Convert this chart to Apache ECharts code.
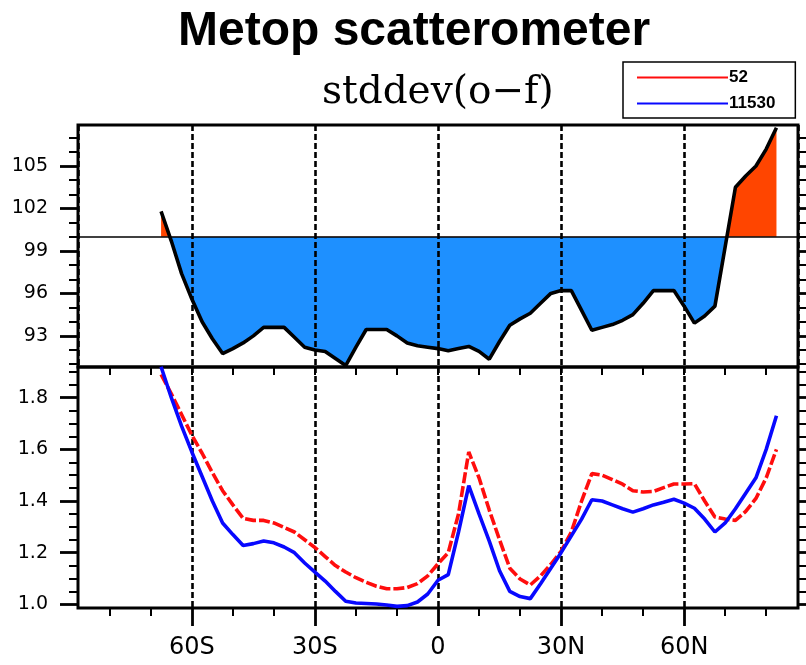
<!DOCTYPE html>
<html>
<head>
<meta charset="utf-8">
<script src="https://cdn.jsdelivr.net/npm/echarts@6/dist/echarts.min.js"></script>
<style>
  html, body { margin: 0; padding: 0; background: #fff; }
  #chart { width: 806px; height: 665px; }
</style>
</head>
<body>
<div id="chart"></div>
<script>
// latitude grid (2.5 deg)
const lats = [
  -67.5, -65, -62.5, -60, -57.5, -55, -52.5, -50, -47.5, -45, -42.5, -40, -37.5, -35, -32.5, -30,
  -27.5, -25, -22.5, -20, -17.5, -15, -12.5, -10, -7.5, -5, -2.5, 0, 2.5, 5, 7.5, 10,
  12.5, 15, 17.5, 20, 22.5, 25, 27.5, 30, 32.5, 35, 37.5, 40, 42.5, 45, 47.5, 50,
  52.5, 55, 57.5, 60, 62.5, 65, 67.5, 70, 72.5, 75, 77.5, 80, 82.5
];

// top panel: normalised stddev (%)
const ratio = [
  101.8, 99.7, 97.4, 95.6, 94.0, 92.8, 91.75, 92.1, 92.5, 93.0, 93.6, 93.6, 93.6, 92.9, 92.2, 92.0,
  91.9, 91.4, 90.9, 92.2, 93.45, 93.45, 93.45, 93.0, 92.5, 92.3, 92.2, 92.1, 91.95, 92.1, 92.25, 91.9,
  91.35, 92.6, 93.75, 94.2, 94.6, 95.3, 96.0, 96.2, 96.2, 94.8, 93.4, 93.6, 93.8, 94.1, 94.5, 95.3,
  96.2, 96.2, 96.2, 95.1, 93.9, 94.4, 95.1, 99.3, 103.5, 104.3, 105.0, 106.2, 107.7
];

// bottom panel: stddev(o-f)
const exp52 = [
  1.89, 1.815, 1.735, 1.655, 1.585, 1.51, 1.44, 1.385, 1.333, 1.325, 1.325, 1.315, 1.298, 1.28, 1.25, 1.22,
  1.185, 1.15, 1.125, 1.103, 1.085, 1.07, 1.06, 1.06, 1.065, 1.08, 1.11, 1.157, 1.20, 1.35, 1.59, 1.49,
  1.365, 1.25, 1.14, 1.098, 1.075, 1.11, 1.155, 1.205, 1.28, 1.40, 1.506, 1.50, 1.483, 1.465, 1.44, 1.435,
  1.437, 1.452, 1.466, 1.466, 1.467, 1.40, 1.338, 1.33, 1.325, 1.36, 1.41, 1.49, 1.60
];
const exp11530 = [
  1.92, 1.80, 1.69, 1.59, 1.495, 1.40, 1.315, 1.27, 1.228, 1.235, 1.245, 1.238, 1.222, 1.20, 1.16, 1.125,
  1.09, 1.05, 1.012, 1.005, 1.003, 1.001, 0.997, 0.992, 0.995, 1.009, 1.04, 1.093, 1.115, 1.28, 1.46, 1.35,
  1.245, 1.13, 1.05, 1.03, 1.022, 1.08, 1.14, 1.20, 1.265, 1.33, 1.405, 1.40, 1.385, 1.37, 1.357, 1.37,
  1.385, 1.395, 1.407, 1.392, 1.372, 1.33, 1.28, 1.315, 1.37, 1.43, 1.49, 1.60, 1.73
];

const latTicks = [-60, -30, 0, 30, 60];
const ratioTicks = [93, 96, 99, 102, 105];
const sdTicks = [1.0, 1.2, 1.4, 1.6, 1.8];
const ratioMin = 90.8, ratioMax = 107.9, ratioRef = 100;

const pairs = (ys) => lats.map((x, i) => [x, ys[i]]);
const latName = (v) => (v < 0 ? (-v) + 'S' : v > 0 ? v + 'N' : '0');

const tickFont = { color: '#000', fontFamily: 'DejaVu Sans' };
const dashed = { color: '#000', width: 2.6, type: [6, 3] };
const noLine = { show: false, onZero: false };
const majorTick = { color: '#000', width: 2.8 };
const minorTick = { color: '#000', width: 2 };

const chart = echarts.init(document.getElementById('chart'));

const option = {
  backgroundColor: '#fff',
  animation: false,
  title: [
    {
      text: 'Metop scatterometer',
      left: 178,
      top: 8,
      padding: 0,
      textStyle: { fontSize: 48, fontWeight: 'bold', fontFamily: 'Liberation Sans', color: '#000' }
    },
    {
      text: 'stddev(o\u2212f)',
      left: 322,
      top: 73,
      padding: 0,
      textStyle: { fontSize: 39, fontWeight: 'normal', fontFamily: 'DejaVu Serif', color: '#000' }
    }
  ],
  legend: {
    data: ['52', '11530'],
    orient: 'vertical',
    left: 623,
    top: 62,
    padding: [7, 20, 6, 13],
    itemWidth: 91,
    itemHeight: 14,
    itemGap: 9,
    borderColor: '#000',
    borderWidth: 1.5,
    lineStyle: { width: 2, type: 'solid' },
    itemStyle: { opacity: 0 },
    textStyle: { fontSize: 17, fontWeight: 'bold', fontFamily: 'Liberation Sans', color: '#000', padding: [0, 0, 0, -4] }
  },
  grid: [
    { left: 78, top: 125, width: 720, height: 242, show: true, borderColor: '#000', borderWidth: 3 },
    { left: 78, top: 367, width: 720, height: 241, show: true, borderColor: '#000', borderWidth: 3 }
  ],
  xAxis: [
    {
      gridIndex: 0, type: 'value', min: -87.75, max: 87.75, z: 3,
      axisLine: noLine, axisTick: { show: false }, axisLabel: { show: false },
      splitLine: { show: true, lineStyle: dashed }
    },
    {
      gridIndex: 1, type: 'value', position: 'bottom', min: -87.75, max: 87.75,
      axisLine: noLine,
      axisTick: { show: true, length: 18, customValues: latTicks, lineStyle: majorTick },
      minorTick: { show: true, splitNumber: 3, length: 8, lineStyle: minorTick },
      axisLabel: { customValues: latTicks, formatter: latName, margin: 28, fontSize: 24, ...tickFont },
      splitLine: { show: true, lineStyle: dashed }
    },
    {
      gridIndex: 1, type: 'value', position: 'top', min: -87.75, max: 87.75,
      axisLine: noLine,
      axisTick: { show: true, inside: true, length: 8, customValues: latTicks, lineStyle: minorTick },
      minorTick: { show: true, splitNumber: 3, length: 8, lineStyle: minorTick },
      axisLabel: { show: false },
      splitLine: { show: false }
    }
  ],
  yAxis: [
    {
      gridIndex: 0, type: 'value', position: 'left', min: ratioMin, max: ratioMax,
      axisLine: noLine,
      axisTick: { show: true, length: 18, customValues: ratioTicks, lineStyle: majorTick },
      minorTick: { show: true, splitNumber: 3, length: 9, lineStyle: minorTick },
      axisLabel: { customValues: ratioTicks, margin: 30, fontSize: 19, ...tickFont },
      splitLine: { show: false }
    },
    {
      gridIndex: 0, type: 'value', position: 'right', min: ratioMin, max: ratioMax,
      axisLine: noLine,
      axisTick: { show: true, length: 18, customValues: ratioTicks, lineStyle: majorTick },
      minorTick: { show: true, splitNumber: 3, length: 9, lineStyle: minorTick },
      axisLabel: { show: false },
      splitLine: { show: false }
    },
    {
      gridIndex: 1, type: 'value', position: 'left', min: 0.9857, max: 1.919,
      axisLine: noLine,
      axisTick: { show: true, length: 18, customValues: sdTicks, lineStyle: majorTick },
      minorTick: { show: true, splitNumber: 4, length: 9, lineStyle: minorTick },
      axisLabel: { customValues: sdTicks, formatter: (v) => v.toFixed(1), margin: 30, fontSize: 19, ...tickFont },
      splitLine: { show: false }
    },
    {
      gridIndex: 1, type: 'value', position: 'right', min: 0.9857, max: 1.919,
      axisLine: noLine,
      axisTick: { show: true, length: 18, customValues: sdTicks, lineStyle: majorTick },
      minorTick: { show: true, splitNumber: 4, length: 9, lineStyle: minorTick },
      axisLabel: { show: false },
      splitLine: { show: false }
    }
  ],
  series: [
    {
      name: 'ratioFill',
      type: 'line',
      xAxisIndex: 0, yAxisIndex: 0,
      data: pairs(ratio),
      symbol: 'none',
      silent: true,
      z: 2,
      lineStyle: { width: 0 },
      areaStyle: { origin: ratioRef, opacity: 1, color: '#1e90ff' }
    },
    {
      name: 'ratio',
      type: 'line',
      xAxisIndex: 0, yAxisIndex: 0,
      data: pairs(ratio),
      symbol: 'none',
      silent: true,
      z: 5,
      lineStyle: { color: '#000', width: 3.6 },
      itemStyle: { color: '#000' },
      markLine: {
        silent: true,
        symbol: ['none', 'none'],
        label: { show: false },
        lineStyle: { color: '#000', width: 1.5, type: 'solid' },
        data: [{ yAxis: ratioRef }]
      }
    },
    {
      name: '52',
      type: 'line',
      xAxisIndex: 1, yAxisIndex: 2,
      data: pairs(exp52),
      symbol: 'none',
      lineStyle: { color: '#ff0d0d', width: 3.6, type: [11, 3] },
      itemStyle: { color: '#ff2020' }
    },
    {
      name: '11530',
      type: 'line',
      xAxisIndex: 1, yAxisIndex: 2,
      data: pairs(exp11530),
      symbol: 'none',
      lineStyle: { color: '#0808ff', width: 3.6 },
      itemStyle: { color: '#2020ff' }
    }
  ]
};

chart.setOption(option);

// orange above the 100 line, blue below: hard stop placed through the axis scale
const yTop = chart.convertToPixel({ yAxisIndex: 0 }, ratioMax);
const yBot = chart.convertToPixel({ yAxisIndex: 0 }, ratioMin);
const yRef = chart.convertToPixel({ yAxisIndex: 0 }, ratioRef);
const cut = (yRef - yTop) / (yBot - yTop);
chart.setOption({
  series: [{
    name: 'ratioFill',
    areaStyle: {
      color: new echarts.graphic.LinearGradient(0, yTop, 0, yBot, [
        { offset: 0, color: '#ff4500' },
        { offset: cut, color: '#ff4500' },
        { offset: cut, color: '#1e90ff' },
        { offset: 1, color: '#1e90ff' }
      ], true)
    }
  }]
});
</script>
</body>
</html>
